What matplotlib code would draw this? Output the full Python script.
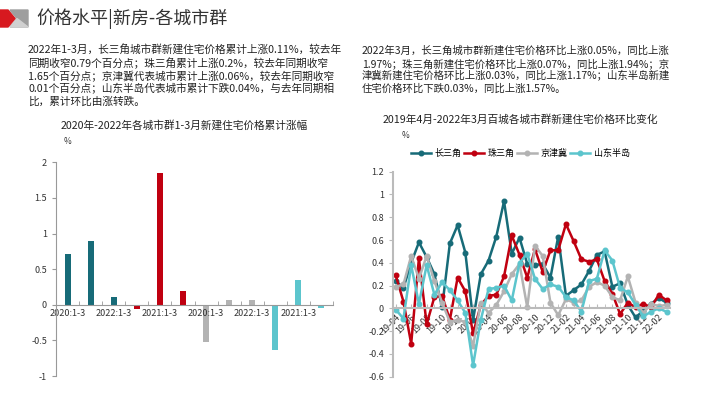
import matplotlib
matplotlib.use("Agg")
import matplotlib.pyplot as plt
from matplotlib.patches import Polygon
from matplotlib.ticker import FuncFormatter, MultipleLocator, FixedLocator

plt.rcParams["font.family"] = ["Noto Sans CJK SC", "DejaVu Sans"]
plt.rcParams["axes.unicode_minus"] = False

# -----------------------------
# DATA
# -----------------------------
bar_years = ["2020:1-3", "2021:1-3", "2022:1-3"]
bar_groups = ["长三角", "珠三角", "京津冀", "山东半岛"]
bar_cjs = [0.71, 0.90, 0.11]
bar_zsj = [-0.06, 1.85, 0.20]
bar_jjj = [-0.52, 0.07, 0.06]
bar_sd = [-0.63, 0.35, -0.04]

months = ["19-04", "19-05", "19-06", "19-07", "19-08", "19-09", "19-10", "19-11", "19-12",
          "20-01", "20-02", "20-03", "20-04", "20-05", "20-06", "20-07", "20-08", "20-09",
          "20-10", "20-11", "20-12", "21-01", "21-02", "21-03", "21-04", "21-05", "21-06",
          "21-07", "21-08", "21-09", "21-10", "21-11", "21-12", "22-01", "22-02", "22-03"]
line_cjs = [0.24, 0.18, 0.40, 0.58, 0.45, 0.30, 0.01, 0.57, 0.73, 0.49, -0.10, 0.30,
            0.42, 0.63, 0.94, 0.48, 0.62, 0.39, 0.38, 0.39, 0.27, 0.63, 0.11, 0.16,
            0.21, 0.33, 0.47, 0.50, 0.19, 0.22, 0.03, -0.08, -0.02, 0.04, 0.09, 0.05]
line_zsj = [0.29, 0.06, -0.31, 0.44, -0.14, 0.10, 0.11, -0.10, 0.27, 0.15, -0.22, 0.03,
            0.11, 0.12, 0.28, 0.64, 0.47, 0.27, 0.52, 0.32, 0.51, 0.51, 0.74, 0.59,
            0.43, 0.41, 0.43, 0.24, 0.13, -0.05, 0.05, 0.01, 0.04, 0.01, 0.12, 0.07]
line_jjj = [0.19, 0.21, 0.46, 0.26, 0.46, 0.24, 0.05, -0.12, -0.10, -0.12, -0.33, 0.05,
            -0.04, 0.03, 0.15, 0.30, 0.39, 0.01, 0.55, 0.46, 0.05, -0.06, 0.08, 0.05,
            0.07, 0.19, 0.23, 0.20, 0.10, 0.07, 0.28, 0.05, -0.04, 0.04, 0.02, 0.03]
line_sd = [-0.01, -0.09, 0.38, 0.04, 0.38, 0.12, 0.23, 0.16, 0.07, -0.04, -0.50, -0.10,
           0.17, 0.18, 0.20, 0.07, 0.40, 0.48, 0.26, 0.17, 0.21, 0.19, 0.10, 0.07,
           -0.03, 0.24, 0.26, 0.51, 0.42, 0.18, 0.14, 0.03, -0.07, -0.03, 0.00, -0.03]

left_text = [
    "2022年1-3月，长三角城市群新建住宅价格累计上涨0.11%，较去年",
    "同期收窄0.79个百分点；珠三角累计上涨0.2%，较去年同期收窄",
    "1.65个百分点；京津冀代表城市累计上涨0.06%，较去年同期收窄",
    "0.01个百分点；山东半岛代表城市累计下跌0.04%，与去年同期相",
    "比，累计环比由涨转跌。",
]
right_text = [
    "2022年3月，长三角城市群新建住宅价格环比上涨0.05%，同比上涨",
    "1.97%；珠三角新建住宅价格环比上涨0.07%，同比上涨1.94%；京",
    "津冀新建住宅价格环比上涨0.03%，同比上涨1.17%；山东半岛新建",
    "住宅价格环比下跌0.03%，同比上涨1.57%。",
]

COLORS = ["#176b78", "#c00010", "#b3b3b3", "#5cc5cd"]
W, H = 710, 399


def px(x, y):
    return x / W, 1 - y / H


fmt = FuncFormatter(lambda v, p: f"{v:g}")

fig = plt.figure(figsize=(7.10, 3.99), dpi=100)

# -----------------------------
# HEADER
# -----------------------------
fig.patches.append(Polygon([px(10, 10), px(28, 10), px(28, 27), px(10, 27), px(17, 18.5)],
                           closed=True, transform=fig.transFigure, color="#9e9e9e"))
fig.patches.append(Polygon([px(17, 18.5), px(28, 27), px(10, 27)],
                           closed=True, transform=fig.transFigure, color="#d0d0d0"))
fig.patches.append(Polygon([px(0, 10), px(8, 10), px(15, 18.5), px(8, 27), px(0, 27)],
                           closed=True, transform=fig.transFigure, color="#d7191f"))
fig.text(*px(36, 18.5), "价格水平|新房-各城市群", fontsize=13, color="#333333",
         va="center", ha="left")

for i, line in enumerate(left_text):
    fig.text(*px(28, 50.5 + i * 12.8), line, fontsize=7.7, color="#222222", va="center")
for i, line in enumerate(right_text):
    fig.text(*px(362, 50.5 + i * 12.8), line, fontsize=7.5, color="#222222", va="center")

# -----------------------------
# LEFT: BAR CHART
# -----------------------------
ax1 = fig.add_axes([56 / W, 1 - 376 / H, (333 - 56) / W, (376 - 162.3) / H])
for s in ["top", "right"]:
    ax1.spines[s].set_visible(False)
ax1.spines["bottom"].set_position(("data", 0))
ax1.spines["left"].set_color("#999999")
ax1.spines["bottom"].set_color("#999999")
cats = bar_years * 4
vals = bar_cjs + bar_zsj + bar_jjj + bar_sd
cols = [c for c in COLORS for _ in bar_years]
xs = list(range(len(cats)))
ax1.bar(xs, vals, width=0.26, color=cols)
ax1.set_xlim(-0.5, len(cats) - 0.5)
ax1.set_ylim(-1, 2)
ax1.yaxis.set_major_locator(MultipleLocator(0.5))
ax1.yaxis.set_major_formatter(fmt)
ax1.xaxis.set_major_locator(FixedLocator(xs[::2]))
ax1.set_xticklabels(cats[::2])
ax1.xaxis.set_minor_locator(FixedLocator([x + 0.5 for x in xs]))
ax1.tick_params(axis="x", which="major", length=0, pad=3, labelsize=6.5, colors="#333333")
ax1.tick_params(axis="x", which="minor", direction="in", length=3, color="#999999")
ax1.tick_params(axis="y", length=3, labelsize=6.5, colors="#333333", color="#999999")
fig.text(*px(184, 125.5), "2020年-2022年各城市群1-3月新建住宅价格累计涨幅", fontsize=7.7,
         color="#222222", ha="center", va="center")
fig.text(*px(68, 142), "%", fontsize=6, color="#333333", ha="center", va="center")

# -----------------------------
# RIGHT: LINE CHART
# -----------------------------
ax2 = fig.add_axes([393 / W, 1 - 376.7 / H, (670 - 393) / W, (376.7 - 171.7) / H])
for s in ["top", "right"]:
    ax2.spines[s].set_visible(False)
ax2.spines["bottom"].set_position(("data", 0))
ax2.spines["left"].set_color("#bbbbbb")
ax2.spines["bottom"].set_color("#bbbbbb")
ax2.spines["left"].set_linewidth(1.5)
ax2.spines["bottom"].set_linewidth(1.5)
mx = list(range(len(months)))
for series, name, c in zip([line_cjs, line_zsj, line_jjj, line_sd], bar_groups, COLORS):
    ax2.plot(mx, series, color=c, lw=1.8, marker="o", ms=3.3, label=name)
ax2.set_xlim(-0.35, len(months) - 0.55)
ax2.set_ylim(-0.6, 1.2)
ax2.yaxis.set_major_locator(MultipleLocator(0.2))
ax2.yaxis.set_major_formatter(fmt)
ax2.xaxis.set_major_locator(FixedLocator(mx[::2]))
ax2.xaxis.set_minor_locator(FixedLocator(mx))
ax2.tick_params(axis="x", which="both", direction="in", length=3, color="#bbbbbb",
                labelsize=6.5, labelcolor="#333333", pad=3, labelrotation=45)
ax2.tick_params(axis="y", length=3, labelsize=6.5, labelcolor="#333333", color="#bbbbbb")
ax2.set_xticklabels(months[::2])
for lab in ax2.get_xticklabels():
    lab.set_ha("right")
    lab.set_va("top")
    lab.set_rotation_mode("anchor")
leg = ax2.legend(loc="center", bbox_to_anchor=(0.46, 1.09), ncol=4, frameon=False,
                 fontsize=6.5, handlelength=2.2, columnspacing=0.3, handletextpad=0.4)
fig.text(*px(520, 119), "2019年4月-2022年3月百城各城市群新建住宅价格环比变化", fontsize=7.7,
         color="#222222", ha="center", va="center")
fig.text(*px(406, 135), "%", fontsize=6, color="#333333", ha="center", va="center")

fig.savefig("out.png", dpi=100)
